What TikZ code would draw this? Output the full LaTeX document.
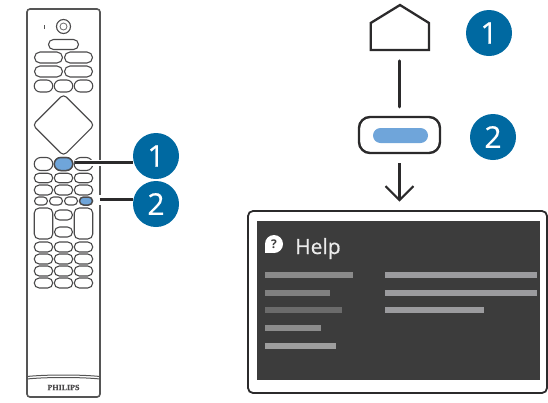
\documentclass[tikz,border=0pt]{standalone}
\usepackage{fontspec}
\setmainfont{Open Sans}
\newfontfamily\semifont[FakeBold=0.6]{Open Sans}
\newfontfamily\brandfont[FakeBold=0.5]{Liberation Serif}
\usetikzlibrary{arrows.meta,shapes.misc,shapes.geometric}
\definecolor{badgeblue}{HTML}{0069A1}
\definecolor{keyblue}{HTML}{6FA5DA}
\definecolor{inkdark}{HTML}{2B2A2B}
\definecolor{screendark}{HTML}{3C3C3C}
\definecolor{barlight}{HTML}{9B9B9E}
\tikzset{
  btn/.style={draw=inkdark!85, line width=1.1pt, rounded rectangle, inner sep=0pt, minimum width=#1, minimum height=10pt},
  badge/.style={circle, fill=badgeblue, text=white, font=\semifont\fontsize{30}{30}\selectfont, minimum size=46pt, inner sep=0pt},
  bar/.style={anchor=west, inner sep=0pt, minimum height=6pt, fill=#1},
  lead/.style={inkdark, line width=3.4pt},
}
\begin{document}
\begin{tikzpicture}[x=1pt,y=-1pt]
      \useasboundingbox (0,0) rectangle (548,402);

      % remote
      \node[draw=inkdark!80, line width=1.6pt, rounded corners=3pt, inner sep=0pt, minimum width=73pt, minimum height=388pt] (remote) at (63.5,203) {};
      \draw[inkdark!80, line width=1pt] (27,376.5) .. controls (45,374.5) and (82,374.5) .. (100,376.5);
      \draw[inkdark!80, line width=1pt] (27,379) .. controls (45,377) and (82,377) .. (100,379);
      \node[font=\brandfont\bfseries\fontsize{8}{8}\selectfont, inkdark!85, inner sep=0pt] (brand) at (63.5,387.5) {PHILIPS};

      \node[fill=inkdark!80, inner sep=0pt, minimum width=1.6pt, minimum height=4pt] (led) at (44.5,26.5) {};
      \node[draw=inkdark!85, circle, line width=1.1pt, minimum size=14pt, inner sep=0pt] (power) at (63.5,26.5) {};
      \node[draw=inkdark!70, circle, line width=0.8pt, minimum size=7pt, inner sep=0pt] (powerin) at (63.5,26.5) {};
      \node[btn=30pt] (topkey) at (63.5,44.5) {};

      \foreach \name/\yy in {ra/57.5, rb/71.5} {
        \node[btn=28pt, minimum height=11pt] (\name1) at (48.5,\yy) {};
        \node[btn=28pt, minimum height=11pt] (\name2) at (78.5,\yy) {};
      }
      \node[draw=inkdark!85, line width=1.1pt, diamond, aspect=1, inner sep=0pt, minimum size=62pt, rounded corners=4pt] (pad) at (63.5,125) {};

      % three keys in a row
      \foreach \name/\yy/\hh in {rc/86/12, rd/164/13, re/178/9.5, rf/190/10, rg/247/10, rh/259/10, ri/271/10, rj/283/10} {
        \node[btn=18.5pt, minimum height=\hh pt] (\name1) at (43.5,\yy) {};
        \node[btn=18.5pt, minimum height=\hh pt] (\name2) at (63.5,\yy) {};
        \node[btn=18.5pt, minimum height=\hh pt] (\name3) at (83.5,\yy) {};
      }
      \node[btn=18.5pt, minimum height=13pt, fill=keyblue, line width=1.5pt] (keyA) at (63.5,164) {};

      \node[btn=13pt, minimum height=8pt] (rk1) at (41,201) {};
      \node[btn=13pt, minimum height=8pt] (rk2) at (56,201) {};
      \node[btn=13pt, minimum height=8pt] (rk3) at (71,201) {};
      \node[btn=13pt, minimum height=8pt, fill=keyblue, line width=1.5pt] (keyB) at (86,201) {};

      \node[draw=inkdark!85, line width=1.1pt, rounded corners=5pt, inner sep=0pt, minimum width=18.5pt, minimum height=31pt] (volkey) at (43.5,223.5) {};
      \node[draw=inkdark!85, line width=1.1pt, rounded corners=5pt, inner sep=0pt, minimum width=18.5pt, minimum height=31pt] (chkey) at (83.5,223.5) {};
      \node[btn=18pt] (okey) at (63.5,215) {};
      \node[btn=18pt] (mkey) at (63.5,232) {};

      % numbers
      \node[badge] (oneA) at (156,156) {1};
      \node[badge] (twoA) at (156,204) {2};
      \node[badge] (oneB) at (489,33) {1};
      \node[badge] (twoB) at (493,137) {2};

      \coordinate (startA) at (75,162.5);
      \coordinate (startB) at (99.5,199.5);
      \draw[white, line width=6pt] (startA) -- (startA -| oneA.west);
      \draw[white, line width=10pt] ([xshift=-3pt]startB) -- ([xshift=3pt]startB);
      \draw[lead] (startA) -- (startA -| oneA.west);
      \draw[lead] (startB) -- (startB -| twoA.west);

      % home key to help
      \draw[inkdark, line width=2.3pt, line join=miter] (370.7,50) -- (370.7,23) -- (400,5) -- (429,23) -- (429,50) -- cycle;
      \coordinate (hseBase) at (399.5,50);
      \node[draw=inkdark, line width=2.4pt, rounded corners=11pt, inner sep=0pt, minimum width=81pt, minimum height=36pt] (keyBox) at (399.5,135) {};
      \node[fill=keyblue, rounded rectangle, inner sep=0pt, minimum width=55pt, minimum height=15pt] (keyIn) at (400.5,135.5) {};
      \draw[lead, line cap=round, shorten <=11pt, shorten >=9pt] (hseBase) -- (keyBox.north);

      \node[draw=inkdark, line width=1.8pt, rounded corners=5pt, inner sep=0pt, minimum width=299pt, minimum height=182pt] (panel) at (397.5,302) {};
      \node[fill=screendark, inner sep=0pt, minimum width=283pt, minimum height=159pt] (screen) at (398.5,300.5) {};
      \draw[inkdark, line width=2.1pt, -{Straight Barb[length=14pt,width=28pt]}, shorten <=9pt, shorten >=8.5pt] (keyBox.south) -- (keyBox.south |- panel.north);

      \fill[white] (265,244) rectangle (274,253);
      \node[circle, fill=white, text=screendark, font=\bfseries\fontsize{12}{12}\selectfont, minimum size=18pt, inner sep=0pt] (helpIcon) at (274,244) {?};
      \node[anchor=base west, text=white!92!black, font=\semifont\fontsize{21}{21}\selectfont, inner sep=0pt] (helpText) at (295,254) {Help};

      % lines of text
      \foreach \name/\yy/\ww/\cc in {la/275/88.5/black!46, lb/293/65/black!50, lc/310/77.5/black!58, ld/328/56.5/black!45, le/346/71.5/black!38} {
        \node[bar=\cc, minimum width=\ww pt] (\name) at (264.5,\yy) {};
      }
      \foreach \name/\yy/\ww in {ma/275/152.5, mb/293/152.5, mc/310/99.5} {
        \node[bar=barlight, minimum width=\ww pt] (\name) at (384.5,\yy) {};
      }
    \end{tikzpicture}
\end{document}
